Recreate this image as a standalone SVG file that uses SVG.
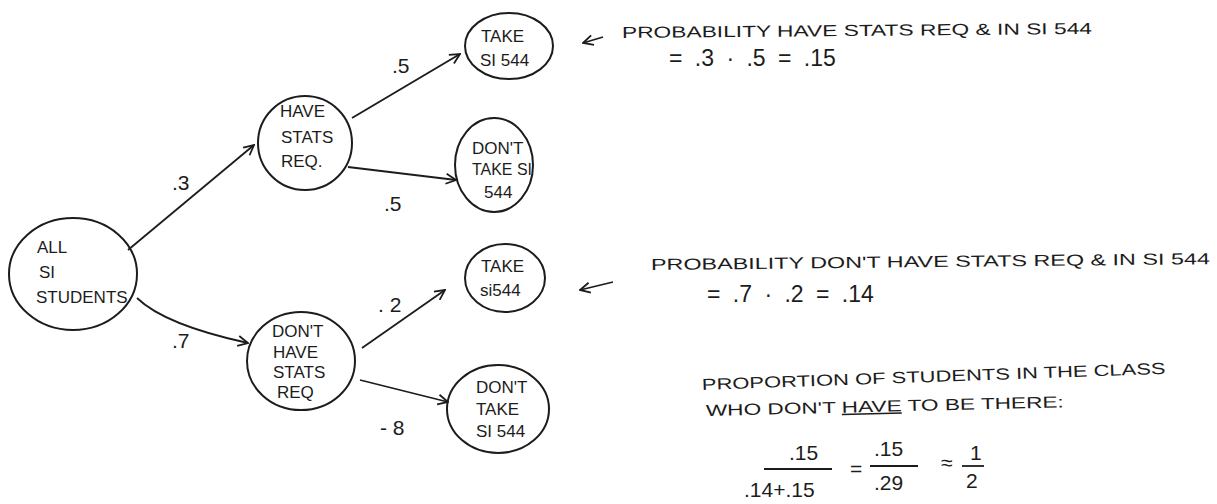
<svg xmlns="http://www.w3.org/2000/svg" width="1217" height="504" viewBox="0 0 1217 504">
<style>
.n{fill:none;stroke:#1c1c1c;stroke-width:2}
.t{font-family:"Liberation Sans",Arial,sans-serif;font-size:17px;fill:#1c1c1c}
.e{fill:none;stroke:#1c1c1c;stroke-width:1.8}
.lb{font-family:"Liberation Sans",Arial,sans-serif;font-size:21px;fill:#1c1c1c}
.nt{font-family:"Liberation Sans",Arial,sans-serif;font-size:16px;fill:#1c1c1c}
.m{font-family:"Liberation Sans",Arial,sans-serif;font-size:21px;fill:#1c1c1c}
.eq{font-family:"Liberation Sans",Arial,sans-serif;font-size:23px;fill:#1c1c1c;word-spacing:6px}
</style>
<defs>
<marker id="a" viewBox="0 0 12 12" refX="11" refY="6" markerWidth="12" markerHeight="12" markerUnits="userSpaceOnUse" orient="auto">
<path d="M1,1 L11,6 L1,11" fill="none" stroke="#1c1c1c" stroke-width="1.8"/>
</marker>
</defs>
<rect width="1217" height="504" fill="#ffffff"/>
<g id="connectors">
<path class="e" d="M128,250 L254,145" marker-end="url(#a)"/>
<path class="e" d="M137,298 Q165,325 248,343" marker-end="url(#a)"/>
<path class="e" d="M352,118 L460,54" marker-end="url(#a)"/>
<path class="e" d="M348,167 L456,180" marker-end="url(#a)"/>
<path class="e" d="M362,348 L445,290" marker-end="url(#a)"/>
<path class="e" d="M360,380 L448,402" marker-end="url(#a)"/>
<path class="e" d="M603,37 L583,43" marker-end="url(#a)"/>
<path class="e" d="M613,282 L580,290" marker-end="url(#a)"/>
<text class="lb" x="172" y="190">.3</text>
<text class="lb" x="172" y="348">.7</text>
<text class="lb" x="392" y="73">.5</text>
<text class="lb" x="384" y="211">.5</text>
<text class="lb" x="378" y="312">. 2</text>
<text class="lb" x="380" y="435">- 8</text>
</g>
<g id="all">
<ellipse class="n" cx="73" cy="274" rx="64" ry="56"/>
<text class="t" x="37" y="253">ALL</text>
<text class="t" x="39" y="278">SI</text>
<text class="t" x="36" y="303">STUDENTS</text>
</g>
<g id="have">
<ellipse class="n" cx="305" cy="143" rx="47" ry="47"/>
<text class="t" x="280" y="117">HAVE</text>
<text class="t" x="281" y="143">STATS</text>
<text class="t" x="281" y="167">REQ.</text>
</g>
<g id="dont-have">
<ellipse class="n" cx="301" cy="361" rx="54" ry="49"/>
<text class="t" x="272" y="337">DON'T</text>
<text class="t" x="273" y="358">HAVE</text>
<text class="t" x="273" y="378">STATS</text>
<text class="t" x="277" y="398">REQ</text>
</g>
<g id="take1">
<ellipse class="n" cx="509" cy="46" rx="44" ry="33"/>
<text class="t" x="481" y="42">TAKE</text>
<text class="t" x="480" y="66">SI 544</text>
</g>
<g id="donttake1">
<ellipse class="n" cx="494" cy="165" rx="39" ry="47"/>
<text class="t" x="472" y="154">DON'T</text>
<text class="t" x="472" y="175" textLength="60" lengthAdjust="spacingAndGlyphs">TAKE SI</text>
<text class="t" x="484" y="198">544</text>
</g>
<g id="take2">
<ellipse class="n" cx="505" cy="278" rx="40" ry="34"/>
<text class="t" x="481" y="272">TAKE</text>
<text class="t" x="480" y="296">si544</text>
</g>
<g id="donttake2">
<ellipse class="n" cx="498" cy="409" rx="51" ry="44"/>
<text class="t" x="476" y="393">DON'T</text>
<text class="t" x="476" y="415">TAKE</text>
<text class="t" x="476" y="437">SI 544</text>
</g>
<g id="notes">
<text class="nt" x="622" y="38" textLength="470" lengthAdjust="spacingAndGlyphs" transform="rotate(-0.5 622 38)">PROBABILITY  HAVE  STATS  REQ &amp;  IN  SI 544</text>
<text class="eq" x="669" y="66">= .3 · .5 = .15</text>
<text class="nt" x="651" y="270" textLength="559" lengthAdjust="spacingAndGlyphs" transform="rotate(-0.6 651 270)">PROBABILITY  DON'T  HAVE  STATS  REQ &amp; IN SI 544</text>
<text class="eq" x="707" y="302">= .7 · .2 = .14</text>
<text class="nt" x="702" y="390" textLength="464" lengthAdjust="spacingAndGlyphs" transform="rotate(-2 702 390)">PROPORTION  OF STUDENTS  IN  THE  CLASS</text>
<g transform="rotate(-1.4 706 416)">
<text class="nt" x="706" y="416" textLength="358" lengthAdjust="spacingAndGlyphs">WHO  DON'T  <tspan text-decoration="underline">HAVE</tspan>  TO  BE  THERE:</text>
</g>
<text class="m" x="789" y="460">.15</text>
<line class="e" x1="764" y1="469" x2="832" y2="469"/>
<text class="m" x="744" y="497">.14+.15</text>
<text class="m" x="850" y="476">=</text>
<text class="m" x="874" y="456">.15</text>
<line class="e" x1="870" y1="466" x2="918" y2="466"/>
<text class="m" x="874" y="490">.29</text>
<text class="m" x="941" y="470">≈</text>
<text class="m" x="970" y="460">1</text>
<line class="e" x1="962" y1="466" x2="984" y2="466"/>
<text class="m" x="966" y="488">2</text>
</g>
</svg>
